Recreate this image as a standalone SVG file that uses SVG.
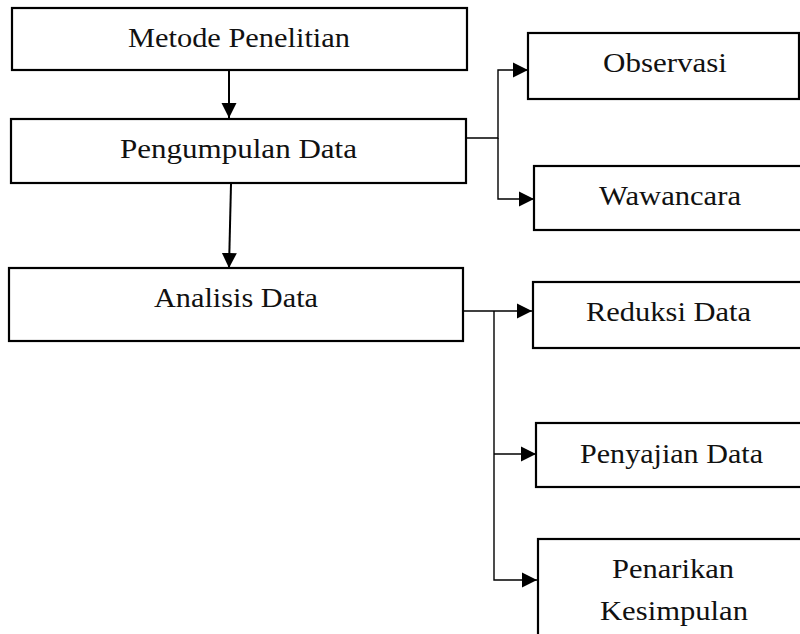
<svg xmlns="http://www.w3.org/2000/svg" width="800" height="634" viewBox="0 0 800 634">
<style>
.box{fill:#fff;stroke:#000;stroke-width:2.2}
.lbl{font-family:"Liberation Serif","Times New Roman",serif;font-size:28px;fill:#111;text-anchor:start}
.con{fill:none;stroke:#000;stroke-width:1.4}
.con2{fill:none;stroke:#000;stroke-width:2}
</style>
<defs>
<marker id="ah" markerUnits="userSpaceOnUse" markerWidth="16" markerHeight="17" refX="15" refY="8" orient="auto">
<path d="M0,0.5 L15,8 L0,15.5 z" fill="#000"/>
</marker>
</defs>
<rect width="800" height="634" fill="#fff"/>
<g id="connectors">
<path class="con2" d="M229,71 V118" marker-end="url(#ah)"/>
<path class="con2" d="M231,184 L229,268" marker-end="url(#ah)"/>
<path class="con" d="M466,138 H498 V70 H528" marker-end="url(#ah)"/>
<path class="con" d="M498,138 V199 H534" marker-end="url(#ah)"/>
<path class="con" d="M463,311 H532" marker-end="url(#ah)"/>
<path class="con" d="M494,311 V580 H537" marker-end="url(#ah)"/>
<path class="con" d="M494,454 H536" marker-end="url(#ah)"/>
</g>
<g id="metode">
<rect class="box" x="12" y="8" width="455" height="62"/>
<text class="lbl" x="128" y="47" textLength="222" lengthAdjust="spacingAndGlyphs">Metode Penelitian</text>
</g>
<g id="pengumpulan">
<rect class="box" x="11" y="119" width="455" height="64"/>
<text class="lbl" x="120" y="158" textLength="237" lengthAdjust="spacingAndGlyphs">Pengumpulan Data</text>
</g>
<g id="analisis">
<rect class="box" x="9" y="268" width="454" height="73"/>
<text class="lbl" x="154" y="307" textLength="164" lengthAdjust="spacingAndGlyphs">Analisis Data</text>
</g>
<g id="observasi">
<rect class="box" x="528" y="33" width="271" height="66"/>
<text class="lbl" x="603" y="72" textLength="124" lengthAdjust="spacingAndGlyphs">Observasi</text>
</g>
<g id="wawancara">
<rect class="box" x="534" y="166" width="280" height="64"/>
<text class="lbl" x="599" y="205" textLength="142" lengthAdjust="spacingAndGlyphs">Wawancara</text>
</g>
<g id="reduksi">
<rect class="box" x="533" y="282" width="280" height="66"/>
<text class="lbl" x="586" y="321" textLength="165" lengthAdjust="spacingAndGlyphs">Reduksi Data</text>
</g>
<g id="penyajian">
<rect class="box" x="536" y="423" width="280" height="64"/>
<text class="lbl" x="580" y="463" textLength="183" lengthAdjust="spacingAndGlyphs">Penyajian Data</text>
</g>
<g id="penarikan">
<rect class="box" x="538" y="539" width="280" height="130"/>
<text class="lbl" x="612" y="578" textLength="122" lengthAdjust="spacingAndGlyphs">Penarikan</text>
<text class="lbl" x="600" y="620" textLength="148" lengthAdjust="spacingAndGlyphs">Kesimpulan</text>
</g>
</svg>
